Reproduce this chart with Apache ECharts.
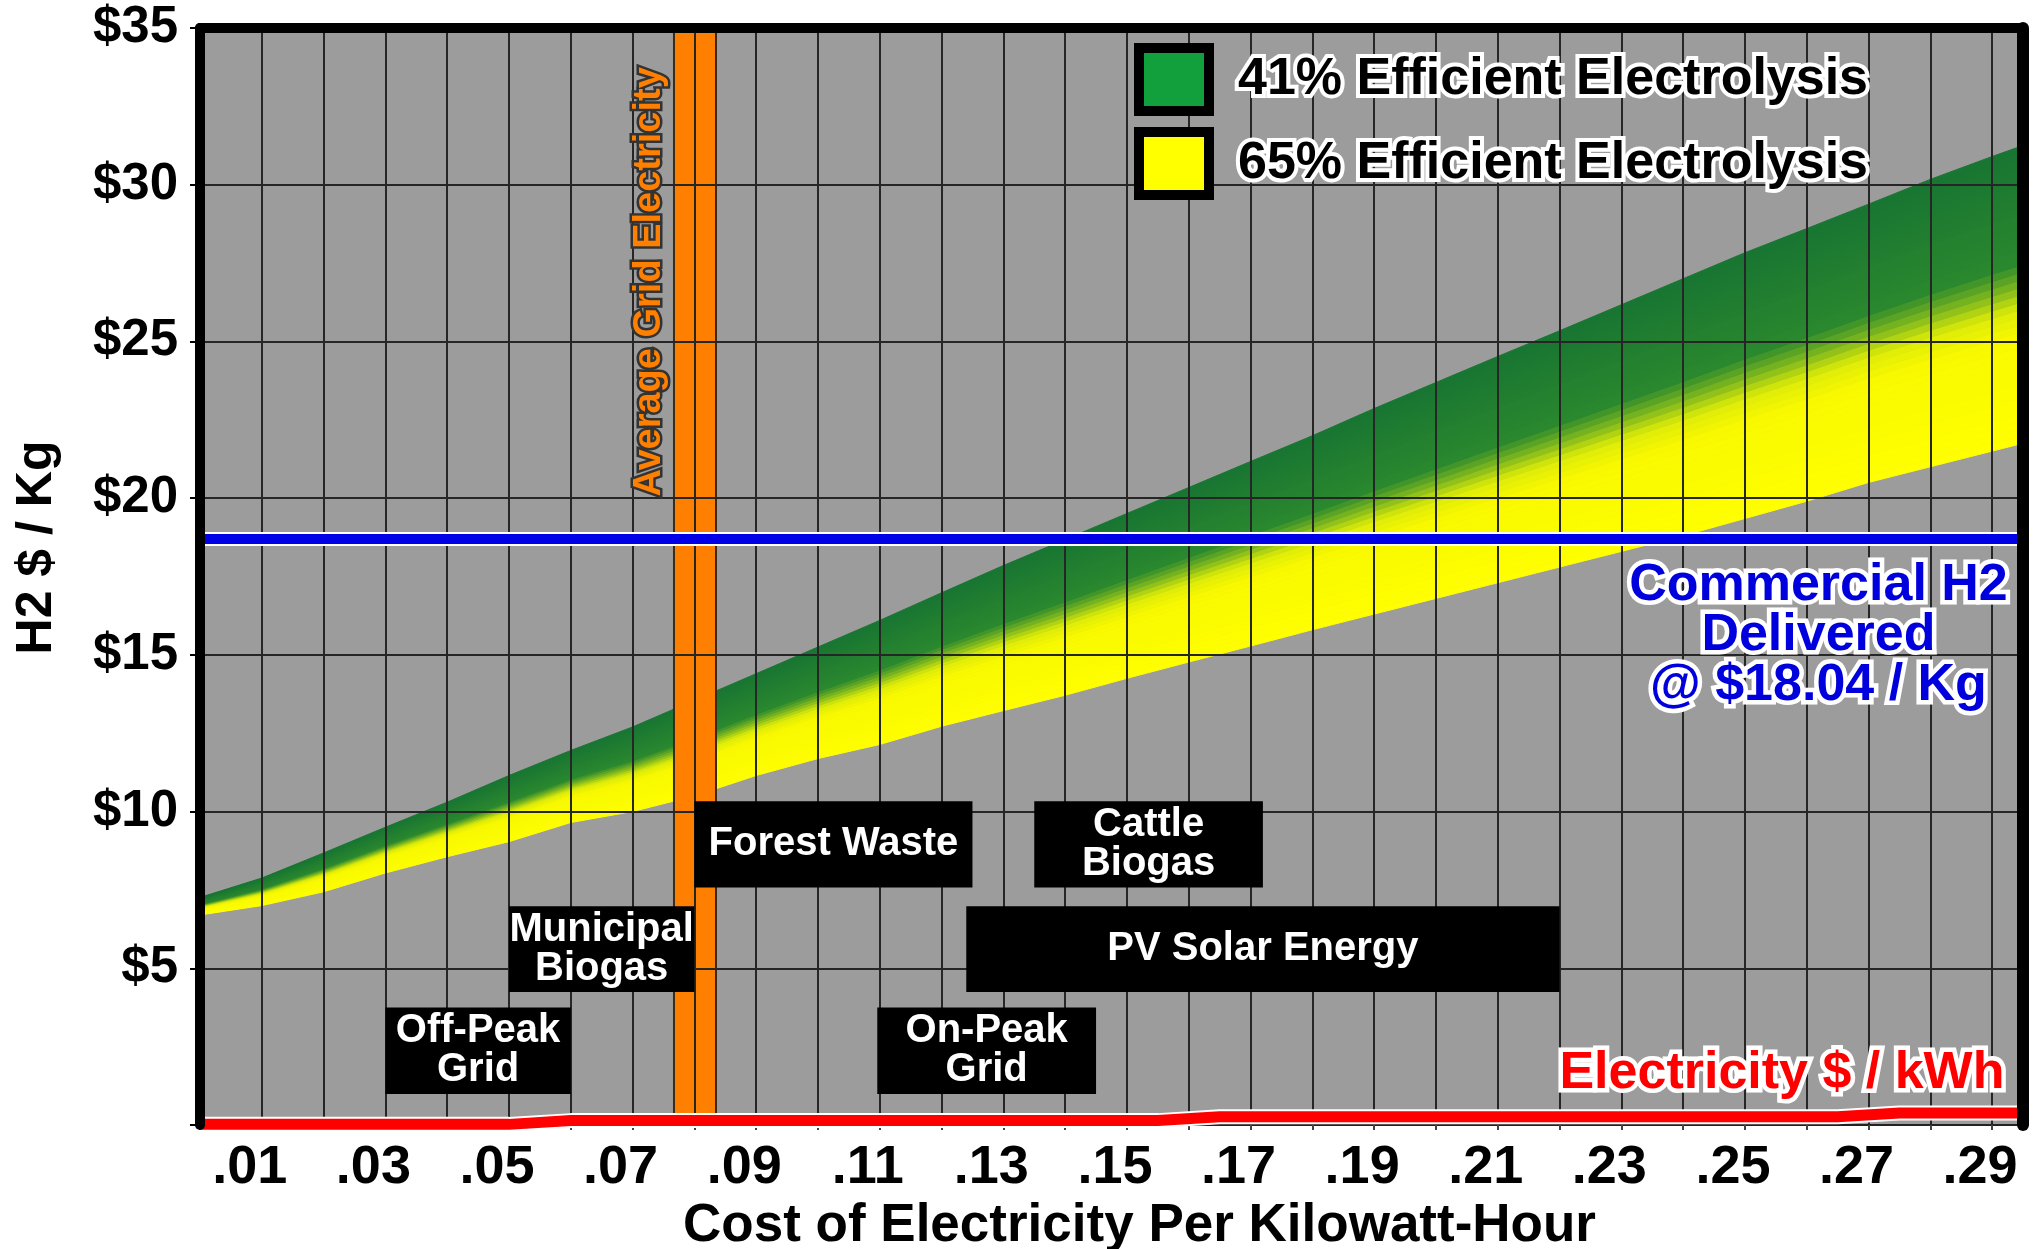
<!DOCTYPE html>
<html>
<head>
<meta charset="utf-8">
<script src="https://cdn.jsdelivr.net/npm/echarts@6.0.0/dist/echarts.min.js"></script>
<style>
html,body{margin:0;padding:0;background:#ffffff;}
#c{width:2034px;height:1249px;}
</style>
</head>
<body>
<div id="c"></div>
<script>
// ---------------- data ----------------
const costX = [0, 0.01, 0.02, 0.03, 0.04, 0.05, 0.06, 0.07, 0.08, 0.09, 0.10, 0.11, 0.12, 0.13, 0.14,
               0.15, 0.16, 0.17, 0.18, 0.19, 0.20, 0.21, 0.22, 0.23, 0.24, 0.25, 0.26, 0.27, 0.28, 0.29, 0.295];
// H2 $/kg at 41% efficient electrolysis (upper edge of the band)
const cost41 = [7.26, 7.88, 8.68, 9.5, 10.3, 11.15, 11.95, 12.7, 13.55, 14.4, 15.25, 16.1, 16.98, 17.85, 18.68,
                19.51, 20.34, 21.17, 21.99, 22.86, 23.69, 24.52, 25.34, 26.17, 27.0, 27.83, 28.6, 29.38, 30.17, 30.9, 31.25];
// H2 $/kg at 65% efficient electrolysis (lower edge of the band)
const cost65 = [6.7, 7.0, 7.44, 8.04, 8.56, 9.04, 9.65, 10.0, 10.5, 11.15, 11.69, 12.14, 12.72, 13.22, 13.71,
                14.25, 14.77, 15.28, 15.8, 16.3, 16.8, 17.3, 17.8, 18.3, 18.8, 19.35, 19.9, 20.5, 21.0, 21.5, 21.75];
// Electricity $/kWh drawn on the same $ axis
const elecX = [0, 0.05, 0.06, 0.155, 0.165, 0.265, 0.275, 0.295];
const elecY = [0.02, 0.02, 0.14, 0.14, 0.26, 0.26, 0.38, 0.38];
// Commercial H2 delivered price line
const commercialH2 = 18.7;
// Average grid electricity range ($/kWh)
const avgGridRange = [0.0767, 0.0835];
// Electricity source cost ranges
const sourceNames = ['Off-Peak\nGrid', 'Municipal\nBiogas', 'Forest Waste', 'Cattle\nBiogas', 'PV Solar Energy', 'On-Peak\nGrid'];
const sourceFrom  = [0.03, 0.05, 0.08, 0.135, 0.124, 0.1096];
const sourceTo    = [0.06, 0.08, 0.125, 0.172, 0.22, 0.145];
const sourceLow   = [0.99, 4.24, 7.58, 7.58, 4.24, 0.99];
const sourceHigh  = [3.75, 6.98, 10.33, 10.33, 6.98, 3.75];
const seriesNames = ['41% Efficient Electrolysis', '65% Efficient Electrolysis'];
const xTickStep = 0.01;
const yTickStep = 5;

// ---------------- styling ----------------
const SANS = "'Liberation Sans',Arial,Helvetica,sans-serif";
const BAND_STOPS = [
  [0.00, [255, 255, 0]],
  [0.36, [249, 249, 0]],
  [0.45, [222, 236, 8]],
  [0.53, [125, 182, 30]],
  [0.61, [42, 136, 46]],
  [1.00, [24, 117, 50]]
];
function bandColor(t) {
  for (let i = 1; i < BAND_STOPS.length; i++) {
    if (t <= BAND_STOPS[i][0]) {
      const a = BAND_STOPS[i - 1], b = BAND_STOPS[i];
      const f = (t - a[0]) / (b[0] - a[0]);
      const c = a[1].map((v, k) => Math.round(v + (b[1][k] - v) * f));
      return 'rgb(' + c.join(',') + ')';
    }
  }
  return 'rgb(' + BAND_STOPS[BAND_STOPS.length - 1][1].join(',') + ')';
}

const bandData = costX.map((x, i) => [x, cost65[i], cost41[i]]);
const STRIPS = 40;

function renderBand(params, api) {
  const i = params.dataIndex;
  if (i >= costX.length - 1) return null;
  const xa = costX[i], xb = costX[i + 1];
  const la = cost65[i], ha = cost41[i], lb = cost65[i + 1], hb = cost41[i + 1];
  const children = [];
  for (let k = 0; k < STRIPS; k++) {
    const t0 = k / STRIPS, t1 = (k + 1) / STRIPS;
    const pts = [
      api.coord([xa, la + (ha - la) * t0]),
      api.coord([xb, lb + (hb - lb) * t0]),
      api.coord([xb, lb + (hb - lb) * t1]),
      api.coord([xa, la + (ha - la) * t1])
    ];
    const col = bandColor((t0 + t1) / 2);
    children.push({type: 'polygon', shape: {points: pts}, style: {fill: col, stroke: col, lineWidth: 1}});
  }
  return {type: 'group', children: children};
}

function renderAvgGrid(params, api) {
  const cs = params.coordSys;
  const p0 = api.coord([api.value(0), 0]);
  const p1 = api.coord([api.value(1), 0]);
  return {
    type: 'rect',
    shape: {x: p0[0], y: cs.y, width: p1[0] - p0[0], height: cs.height},
    style: {fill: '#ff8000', stroke: '#3a2a1a', lineWidth: 2}
  };
}

const sourceData = sourceNames.map((n, i) => [sourceFrom[i], sourceTo[i], sourceLow[i], sourceHigh[i], n]);
function renderSource(params, api) {
  const p0 = api.coord([api.value(0), api.value(3)]);
  const p1 = api.coord([api.value(1), api.value(2)]);
  const name = sourceNames[params.dataIndex];
  return {
    type: 'group',
    children: [
      {type: 'rect', shape: {x: p0[0], y: p0[1], width: p1[0] - p0[0], height: p1[1] - p0[1]},
       style: {fill: '#000000'}},
      {type: 'text', style: {
        text: name, x: (p0[0] + p1[0]) / 2, y: (p0[1] + p1[1]) / 2,
        fill: '#ffffff', font: 'bold 40px ' + SANS, align: 'center', verticalAlign: 'middle', lineHeight: 39
      }}
    ]
  };
}

const xMax = 0.295;
const borderAxis = (pos, width) => ({
  type: 'value', min: 0, max: pos === 'top' ? xMax : 35, position: pos, offset: 0, z: 7,
  axisLine: {show: true, onZero: false, lineStyle: {color: '#000', width: width}},
  axisTick: {show: false}, axisLabel: {show: false}, splitLine: {show: false}
});
const option = {
  backgroundColor: '#ffffff',
  animation: false,
  grid: {left: 200, right: 11, top: 28, bottom: 124, show: true, backgroundColor: '#9c9c9c',
         borderWidth: 0, outerBoundsMode: 'none', containLabel: false},
  legend: {
    orient: 'vertical', left: 1129, top: 38, itemWidth: 70, itemHeight: 63, itemGap: 11,
    icon: 'rect', selectedMode: false, z: 8,
    data: [
      {name: seriesNames[0], itemStyle: {color: '#12a03c', borderColor: '#000', borderWidth: 10}},
      {name: seriesNames[1], itemStyle: {color: '#ffff00', borderColor: '#000', borderWidth: 10}}
    ],
    textStyle: {fontSize: 52, fontWeight: 'bold', fontFamily: SANS, color: '#000',
                textBorderColor: '#ffffff', textBorderWidth: 8, padding: [0, 0, 0, 24]}
  },
  xAxis: [
    {
      type: 'value', min: 0, max: xMax, interval: xTickStep, position: 'bottom', z: 3,
      name: 'Cost of Electricity Per Kilowatt-Hour', nameLocation: 'middle', nameGap: 68,
      nameTextStyle: {fontSize: 53, fontWeight: 'bold', fontFamily: SANS, color: '#000', padding: [0, 0, 0, 56]},
      axisLine: {show: true, onZero: false, lineStyle: {color: '#222', width: 2}},
      axisTick: {show: true, length: 5, lineStyle: {color: '#444', width: 2}},
      axisLabel: {
        margin: 16, fontSize: 54, fontWeight: 'bold', fontFamily: SANS, color: '#000', padding: [0, 24, 0, 0],
        formatter: function (v) {
          const h = v * 100, r = Math.round(h);
          if (Math.abs(h - r) > 1e-6 || r % 2 !== 1) return '';
          return '.' + (r < 10 ? '0' + r : '' + r);
        }
      },
      splitLine: {show: true, lineStyle: {color: '#262626', width: 2}}
    },
    borderAxis('top', 10)
  ],
  yAxis: [
    {
      type: 'value', min: 0, max: 35, interval: yTickStep, position: 'left', z: 3,
      name: 'H2 $ / Kg', nameLocation: 'middle', nameRotate: 90, nameGap: 138,
      nameTextStyle: {fontSize: 50, fontWeight: 'bold', fontFamily: SANS, color: '#000', padding: [0, 0, 0, 58]},
      axisLine: {show: false, onZero: false},
      axisTick: {show: true, length: 10, lineStyle: {color: '#000', width: 2}},
      axisLabel: {
        margin: 22, fontSize: 51, fontWeight: 'bold', fontFamily: SANS, color: '#000',
        formatter: function (v) { return v === 0 ? '' : '$' + v; }
      },
      splitLine: {show: true, lineStyle: {color: '#262626', width: 2}}
    },
    borderAxis('right', 12),
    borderAxis('left', 10)
  ],
  series: [
    {
      type: 'custom', name: 'band', z: 1, silent: true,
      renderItem: renderBand, data: bandData, encode: {x: 0, y: [1, 2]}
    },
    {
      type: 'line', name: seriesNames[0], z: 0, silent: true, symbol: 'none',
      lineStyle: {opacity: 0}, data: costX.map((x, i) => [x, cost41[i]])
    },
    {
      type: 'line', name: seriesNames[1], z: 0, silent: true, symbol: 'none',
      lineStyle: {opacity: 0}, data: costX.map((x, i) => [x, cost65[i]])
    },
    {
      type: 'custom', name: 'Average Grid Electricity', z: 2, silent: true,
      renderItem: renderAvgGrid, data: [avgGridRange], encode: {x: [0, 1]}
    },
    {
      type: 'custom', name: 'sources', z: 4, silent: true,
      renderItem: renderSource, data: sourceData, encode: {x: [0, 1], y: [2, 3]}
    },
    {
      type: 'line', name: 'commercial-outline', z: 5, silent: true, symbol: 'none',
      lineStyle: {color: '#ffffff', width: 14}, data: [[0, commercialH2], [xMax, commercialH2]]
    },
    {
      type: 'line', name: 'Commercial H2 Delivered', z: 5, silent: true, symbol: 'none',
      lineStyle: {color: '#0000e6', width: 10}, data: [[0, commercialH2], [xMax, commercialH2]]
    },
    {
      type: 'line', name: 'electricity-outline', z: 5, silent: true, symbol: 'none', clip: false,
      lineStyle: {color: '#ffffff', width: 15, join: 'round'}, data: elecX.map((x, i) => [x, elecY[i]])
    },
    {
      type: 'line', name: 'Electricity $ / kWh', z: 5, silent: true, symbol: 'none', clip: false,
      lineStyle: {color: '#ff0000', width: 11, join: 'round'}, data: elecX.map((x, i) => [x, elecY[i]])
    }
  ]
};

const chart = echarts.init(document.getElementById('c'));
chart.setOption(option);

function outlinedText(id, text, pos, opts) {
  const base = {
    text: text, x: 0, y: 0, font: opts.font, align: opts.align || 'center',
    verticalAlign: 'middle', lineHeight: opts.lineHeight
  };
  return {
    type: 'group', id: id, x: pos[0], y: pos[1], rotation: opts.rotation || 0, z: 9,
    children: [
      {type: 'text', z: 9, style: Object.assign({}, base, {fill: opts.stroke, stroke: opts.stroke,
        lineWidth: opts.strokeWidth, lineJoin: 'round'})},
      {type: 'text', z: 10, style: Object.assign({}, base, {fill: opts.fill})}
    ]
  };
}

const toPx = (p) => chart.convertToPixel({xAxisIndex: 0, yAxisIndex: 0}, p);
chart.setOption({
  graphic: [
    outlinedText('avg', 'Average Grid Electricity', toPx([0.0728, 26.9]),
      {font: 'bold 38px ' + SANS, fill: '#ff8000', stroke: '#333333', strokeWidth: 5, rotation: Math.PI / 2}),
    outlinedText('comm', 'Commercial H2\nDelivered\n@ $18.04 / Kg', toPx([0.2619, 15.6]),
      {font: 'bold 52px ' + SANS, fill: '#0000dd', stroke: '#ffffff', strokeWidth: 9, lineHeight: 50}),
    outlinedText('elec', 'Electricity $ / kWh', toPx([0.292, 1.63]),
      {font: 'bold 52px ' + SANS, fill: '#ff0000', stroke: '#ffffff', strokeWidth: 9, align: 'right'})
  ]
});
</script>
</body>
</html>
